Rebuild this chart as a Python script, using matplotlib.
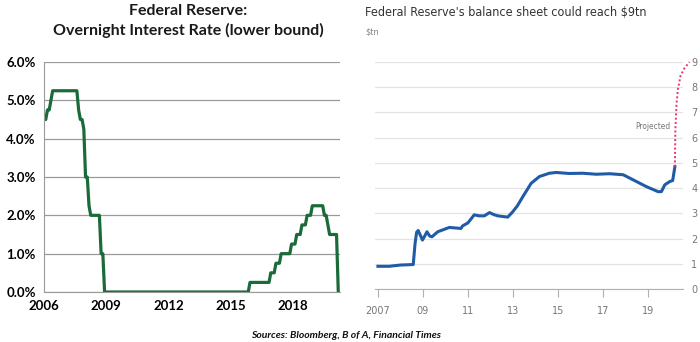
import numpy as np
import matplotlib.pyplot as plt

# fed funds lower bound: month of each change and the new level (%)
chg_month = ['2006-01', '2006-03', '2006-05', '2006-06', '2007-09', '2007-10',
             '2007-12', '2008-01', '2008-03', '2008-04', '2008-10', '2008-12',
             '2015-12', '2016-12', '2017-03', '2017-06', '2017-12', '2018-03',
             '2018-06', '2018-09', '2018-12', '2019-07', '2019-09', '2019-10',
             '2020-03']
chg_rate = [4.5, 4.75, 5.0, 5.25, 4.75, 4.5,
            4.25, 3.0, 2.25, 2.0, 1.0, 0.0,
            0.25, 0.5, 0.75, 1.0, 1.25, 1.5,
            1.75, 2.0, 2.25, 2.0, 1.75, 1.5,
            0.0]
rate_ticks = [0, 1, 2, 3, 4, 5, 6]
year_ticks = [2006, 2009, 2012, 2015, 2018]

# Fed balance sheet ($tn) and the projection
bs_year = [2007.0, 2007.5, 2008.0, 2008.57, 2008.65, 2008.72, 2008.79, 2008.9,
           2008.98, 2009.08, 2009.18, 2009.3, 2009.4, 2009.66, 2009.9, 2010.17,
           2010.45, 2010.69, 2010.76, 2011.0, 2011.28, 2011.5, 2011.73, 2011.96,
           2012.15, 2012.33, 2012.77, 2013.0, 2013.2, 2013.44, 2013.81, 2014.18,
           2014.62, 2014.92, 2015.5, 2016.1, 2016.7, 2017.3, 2017.9, 2018.34,
           2018.93, 2019.45, 2019.6, 2019.75, 2019.97, 2020.1, 2020.2]
bs_val = [0.9, 0.9, 0.95, 0.97, 1.8, 2.25, 2.32, 2.1,
          1.94, 2.1, 2.27, 2.1, 2.07, 2.27, 2.35, 2.44,
          2.42, 2.4, 2.5, 2.62, 2.94, 2.9, 2.9, 3.03,
          2.95, 2.9, 2.85, 3.07, 3.3, 3.66, 4.19, 4.46,
          4.59, 4.62, 4.58, 4.59, 4.55, 4.57, 4.53, 4.33,
          4.06, 3.86, 3.86, 4.13, 4.26, 4.3, 4.85]
proj_year = [2020.2, 2020.22, 2020.27, 2020.33, 2020.45, 2020.62, 2020.85]
proj_val = [4.85, 6.3, 7.3, 7.9, 8.45, 8.75, 9.0]
bs_ticks = [2007, 2009, 2011, 2013, 2015, 2017, 2019]
bs_ticklabels = ['2007', '09', '11', '13', '15', '17', '19']


def to_year(m):
    y, mo = m.split('-')
    return int(y) + (int(mo) - 1) / 12


# vertices of the monthly line: old level the month before a change, new level at it
rx, ry = [to_year(chg_month[0])], [chg_rate[0]]
for m, r in zip(chg_month[1:], chg_rate[1:]):
    t = to_year(m)
    rx += [t - 1 / 12, t]
    ry += [ry[-1], r]

fig = plt.figure(figsize=(7, 3.42), dpi=100)

# ---- left: overnight rate ----
ax = fig.add_axes([44 / 700, 1 - 292 / 342, 296 / 700, 230 / 342])
ax.plot(rx, ry, color='#1b6b3a', lw=2.3, solid_joinstyle='round')
ax.set_xlim(2006, 2020.25)
ax.set_ylim(0, 6)
ax.set_yticks(rate_ticks)
ax.set_yticklabels([f'{v:.1f}%' for v in rate_ticks])
ax.set_xticks(year_ticks)
ax.set_xticklabels([str(y) for y in year_ticks])
ax.grid(axis='y', color='#9a9a9a', lw=0.9)
ax.set_axisbelow(True)
for s in ['top', 'right']:
    ax.spines[s].set_visible(False)
for s in ['left', 'bottom']:
    ax.spines[s].set_color('#9a9a9a')
ax.tick_params(length=0, pad=6, labelsize=9.5)
for lab in ax.get_xticklabels() + ax.get_yticklabels():
    lab.set_fontfamily('Lato')
    lab.set_fontweight('bold')
fig.text(188 / 700, 1 - 11 / 342, 'Federal Reserve:', ha='center', va='center',
         fontsize=11.5, fontweight='bold', family='Lato', color='#1a1a1a')
fig.text(188 / 700, 1 - 30 / 342, 'Overnight Interest Rate (lower bound)', ha='center',
         va='center', fontsize=11.5, fontweight='bold', family='Lato', color='#1a1a1a')

# ---- right: balance sheet ----
bx = fig.add_axes([375 / 700, 1 - 289 / 342, 308 / 700, 227 / 342])
bx.plot(bs_year, bs_val, color='#1f5ba6', lw=2.2, solid_joinstyle='round')
bx.plot(proj_year, proj_val, color='#e8336b', lw=1.4, ls=(0, (1, 1.2)), clip_on=False)
bx.set_xlim(2006.87, 2020.56)
bx.set_ylim(0, 9)
bx.set_yticks(range(0, 10))
bx.yaxis.tick_right()
bx.set_xticks(bs_ticks)
bx.set_xticklabels(bs_ticklabels)
bx.grid(axis='y', color='#e3e3e3', lw=0.9)
bx.set_axisbelow(True)
for s in ['top', 'right', 'left']:
    bx.spines[s].set_visible(False)
bx.spines['bottom'].set_color('#b0b0b0')
bx.tick_params(axis='y', length=0, pad=6, labelsize=7, labelcolor='#777777')
bx.tick_params(axis='x', length=6, width=0.8, color='#b0b0b0', pad=6,
               labelsize=7, labelcolor='#777777')
bx.text(2020.0, 6.45, 'Projected', ha='right', va='center', fontsize=6,
        color='#777777', family='DejaVu Sans', fontstretch='condensed')
fig.text(365 / 700, 1 - 12 / 342, "Federal Reserve's balance sheet could reach $9tn",
         ha='left', va='center', fontsize=9, color='#333333',
         family='DejaVu Sans', fontstretch='condensed')
fig.text(365 / 700, 1 - 32 / 342, '$tn', ha='left', va='center', fontsize=6.5,
         color='#888888', family='DejaVu Sans', fontstretch='condensed')

fig.text(346 / 700, 1 - 335 / 342, 'Sources: Bloomberg, B of A, Financial Times',
         ha='center', va='center', fontsize=7.5, fontweight='bold', fontstyle='italic',
         family='Lato', color='#111111')

fig.savefig('out.png', dpi=100)
